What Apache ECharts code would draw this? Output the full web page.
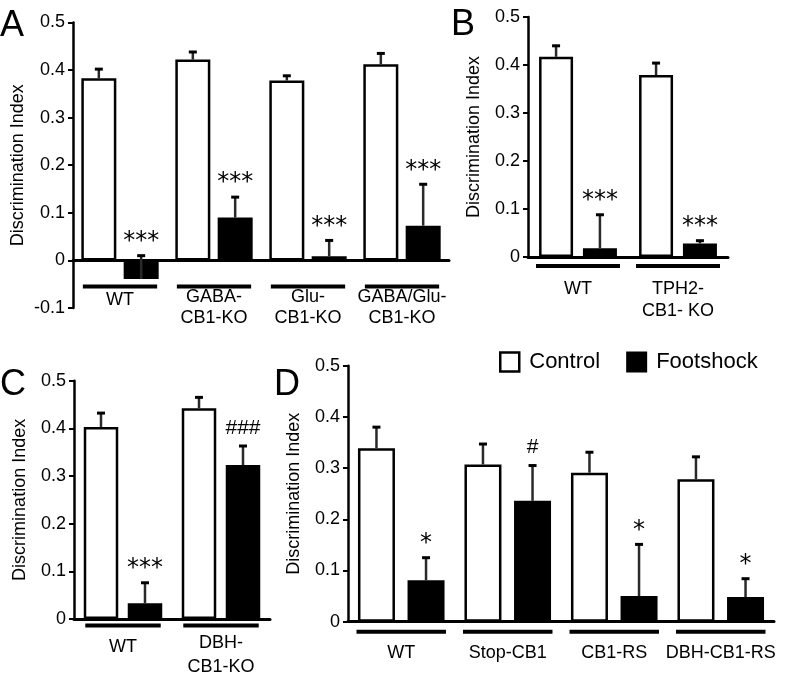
<!DOCTYPE html>
<html><head><meta charset="utf-8">
<script src="https://cdn.jsdelivr.net/npm/echarts@6/dist/echarts.min.js"></script>
<style>html,body{margin:0;padding:0;background:#fff}#c{width:796px;height:679px}</style>
</head><body><div id="c"></div>
<script>
// ---------- DATA ----------
const yTickStep = 0.1;
const yMax = 0.5;
// Panel A
const catsA = ['WT', 'GABA-\nCB1-KO', 'Glu-\nCB1-KO', 'GABA/Glu-\nCB1-KO'];
const ctrlA = [0.383, 0.422, 0.378, 0.412];
const ctrlErrA = [0.019, 0.016, 0.010, 0.023];
const shockA = [-0.039, 0.090, 0.009, 0.073];
const shockErrA = [0.049, 0.043, 0.033, 0.087];
const sigA = ['***', '***', '***', '***'];
const yMinA = -0.1;
// Panel B
const catsB = ['WT', 'TPH2-\nCB1- KO'];
const ctrlB = [0.417, 0.379];
const ctrlErrB = [0.023, 0.025];
const shockB = [0.018, 0.028];
const shockErrB = [0.070, 0.006];
const sigB = ['***', '***'];
// Panel C
const catsC = ['WT', 'DBH-\nCB1-KO'];
const ctrlC = [0.403, 0.442];
const ctrlErrC = [0.029, 0.023];
const shockC = [0.033, 0.323];
const shockErrC = [0.043, 0.040];
const sigC = ['***', '###'];
// Panel D
const catsD = ['WT', 'Stop-CB1', 'CB1-RS', 'DBH-CB1-RS'];
const ctrlD = [0.339, 0.307, 0.291, 0.278];
const ctrlErrD = [0.041, 0.040, 0.040, 0.044];
const shockD = [0.081, 0.236, 0.050, 0.048];
const shockErrD = [0.044, 0.069, 0.101, 0.036];
const sigD = ['*', '#', '*', '*'];

const seriesNames = ['Control', 'Footshock'];
const panelLetters = ['A', 'B', 'C', 'D'];
const yTitle = 'Discrimination Index';

// ---------- LAYOUT / STYLE ----------
const FONT = '"Liberation Sans", Arial, sans-serif';
const panels = [
  {cats: catsA, ctrl: ctrlA, ce: ctrlErrA, shock: shockA, se: shockErrA, sig: sigA, min: yMinA,
   left: 73, top: 22.5, width: 376, height: 285.5, barW: 35, gap: 0.21, ulOff: 26, ulFrac: 0.79, margin: -21, lh: 21, pad1: 5, nameGap: 46},
  {cats: catsB, ctrl: ctrlB, ce: ctrlErrB, shock: shockB, se: shockErrB, sig: sigB, min: 0,
   left: 528, top: 17, width: 200, height: 240, barW: 34, gap: 0.29, ulOff: 9, ulFrac: 0.84, margin: 21, lh: 22, pad1: 0, nameGap: 45},
  {cats: catsC, ctrl: ctrlC, ce: ctrlErrC, shock: shockC, se: shockErrC, sig: sigC, min: 0,
   left: 74, top: 380.7, width: 196, height: 240, barW: 34.5, gap: 0.275, ulOff: 6.5, ulFrac: 0.77, margin: 12, lh: 24, pad1: 8, nameGap: 45},
  {cats: catsD, ctrl: ctrlD, ce: ctrlErrD, shock: shockD, se: shockErrD, sig: sigD, min: 0,
   left: 348, top: 365.7, width: 426, height: 256, barW: 37, gap: 0.34, ulOff: 10, ulFrac: 0.84, margin: 20, lh: 22, pad1: 0, nameGap: 45}
];
const letterPos = [[0, 8], [451, 7], [0, 367], [274, 367]];

const grids = [], xAxes = [], yAxes = [], series = [];

function errSeries(p, i, vals, errs, sigs, side) {
  return {
    type: 'custom', xAxisIndex: i, yAxisIndex: i, z: 5, silent: true,
    data: vals.map((v, j) => [j, v, errs[j]]),
    renderItem: (params, api) => {
      const j = api.value(0), v = api.value(1), e = api.value(2);
      const base = api.coord([j, v]);
      const top = api.coord([j, v + e]);
      const x = base[0] + side * p.barW * (1 + p.gap) / 2;
      const ch = [
        {type: 'line', shape: {x1: x, y1: base[1], x2: x, y2: top[1]}, style: {stroke: '#2a2a2a', lineWidth: 2.5}},
        {type: 'line', shape: {x1: x - 4, y1: top[1], x2: x + 4, y2: top[1]}, style: {stroke: '#000', lineWidth: 3}}
      ];
      const s = sigs ? sigs[params.dataIndex] : '';
      if (s) {
        const star = s.indexOf('*') >= 0;
        ch.push({type: 'text', x: x, y: top[1] - (star ? 14 : 18),
          style: {text: s, fill: '#000', align: 'center', verticalAlign: 'middle',
            fontSize: star ? 24 : 21, fontFamily: star ? '"DejaVu Sans", sans-serif' : FONT}});
      }
      return {type: 'group', children: ch};
    }
  };
}

panels.forEach((p, i) => {
  grids.push({left: p.left, top: p.top, width: p.width, height: p.height});
  xAxes.push({
    type: 'category', gridIndex: i, data: p.cats,
    axisLine: {onZero: true, lineStyle: {color: '#000', width: 3}},
    axisTick: {show: false},
    splitLine: {show: false},
    axisLabel: {
      interval: 0, color: '#000', fontSize: 18, fontFamily: FONT, lineHeight: p.lh, margin: p.margin,
      formatter: v => v.indexOf('\n') >= 0 ? v : '{s|' + v + '}',
      rich: {s: {fontSize: 18, fontFamily: FONT, color: '#000', lineHeight: p.lh, padding: [p.pad1, 0, 0, 0]}}
    }
  });
  yAxes.push({
    type: 'value', gridIndex: i, min: p.min, max: yMax, interval: yTickStep,
    name: yTitle, nameLocation: 'middle', nameGap: p.nameGap,
    nameTextStyle: {color: '#000', fontSize: 18, fontFamily: FONT},
    axisLine: {show: true, lineStyle: {color: '#000', width: 2.5}},
    axisTick: {show: true, inside: false, length: 5, lineStyle: {color: '#000', width: 2}},
    axisLabel: {color: '#000', fontSize: 18, fontFamily: FONT, margin: 8},
    splitLine: {show: false}
  });
  series.push({
    name: seriesNames[0], type: 'bar', xAxisIndex: i, yAxisIndex: i, data: p.ctrl,
    barWidth: p.barW, barGap: (p.gap * 100) + '%', silent: true,
    itemStyle: {color: '#fff', borderColor: '#000', borderWidth: 2.5}
  });
  series.push({
    name: seriesNames[1], type: 'bar', xAxisIndex: i, yAxisIndex: i, data: p.shock,
    barWidth: p.barW, barGap: (p.gap * 100) + '%', silent: true,
    itemStyle: {color: '#000', borderColor: '#000', borderWidth: 2}
  });
  series.push(errSeries(p, i, p.ctrl, p.ce, null, -1));
  series.push(errSeries(p, i, p.shock, p.se, p.sig, 1));
  series.push({
    type: 'custom', xAxisIndex: i, yAxisIndex: i, z: 4, silent: true,
    data: p.cats.map((c, j) => [j, 0]),
    renderItem: (params, api) => {
      const c = api.coord([api.value(0), 0]);
      const bw = api.size([1, 0])[0];
      const w = bw * p.ulFrac;
      return {type: 'rect', shape: {x: c[0] - w / 2, y: c[1] + p.ulOff - 2, width: w, height: 4}, style: {fill: '#000'}};
    }
  });
});

const chart = echarts.init(document.getElementById('c'), null, {renderer: 'canvas'});
chart.setOption({
  animation: false,
  backgroundColor: '#fff',
  textStyle: {fontFamily: FONT},
  title: panelLetters.map((t, k) => ({
    text: t, left: letterPos[k][0], top: letterPos[k][1], padding: 0,
    textStyle: {fontSize: 36, fontWeight: 'normal', color: '#000', fontFamily: FONT}
  })),
  legend: {
    left: 494, top: 346, icon: 'rect', itemWidth: 19, itemHeight: 19, itemGap: 26,
    textStyle: {fontSize: 22, color: '#000', fontFamily: FONT, padding: [0, 0, 0, 5]},
    selectedMode: false,
    data: [
      {name: seriesNames[0], itemStyle: {color: '#fff', borderColor: '#000', borderWidth: 2.5}},
      {name: seriesNames[1], itemStyle: {color: '#000', borderColor: '#000', borderWidth: 2}}
    ]
  },
  grid: grids, xAxis: xAxes, yAxis: yAxes, series: series
});
</script></body></html>
